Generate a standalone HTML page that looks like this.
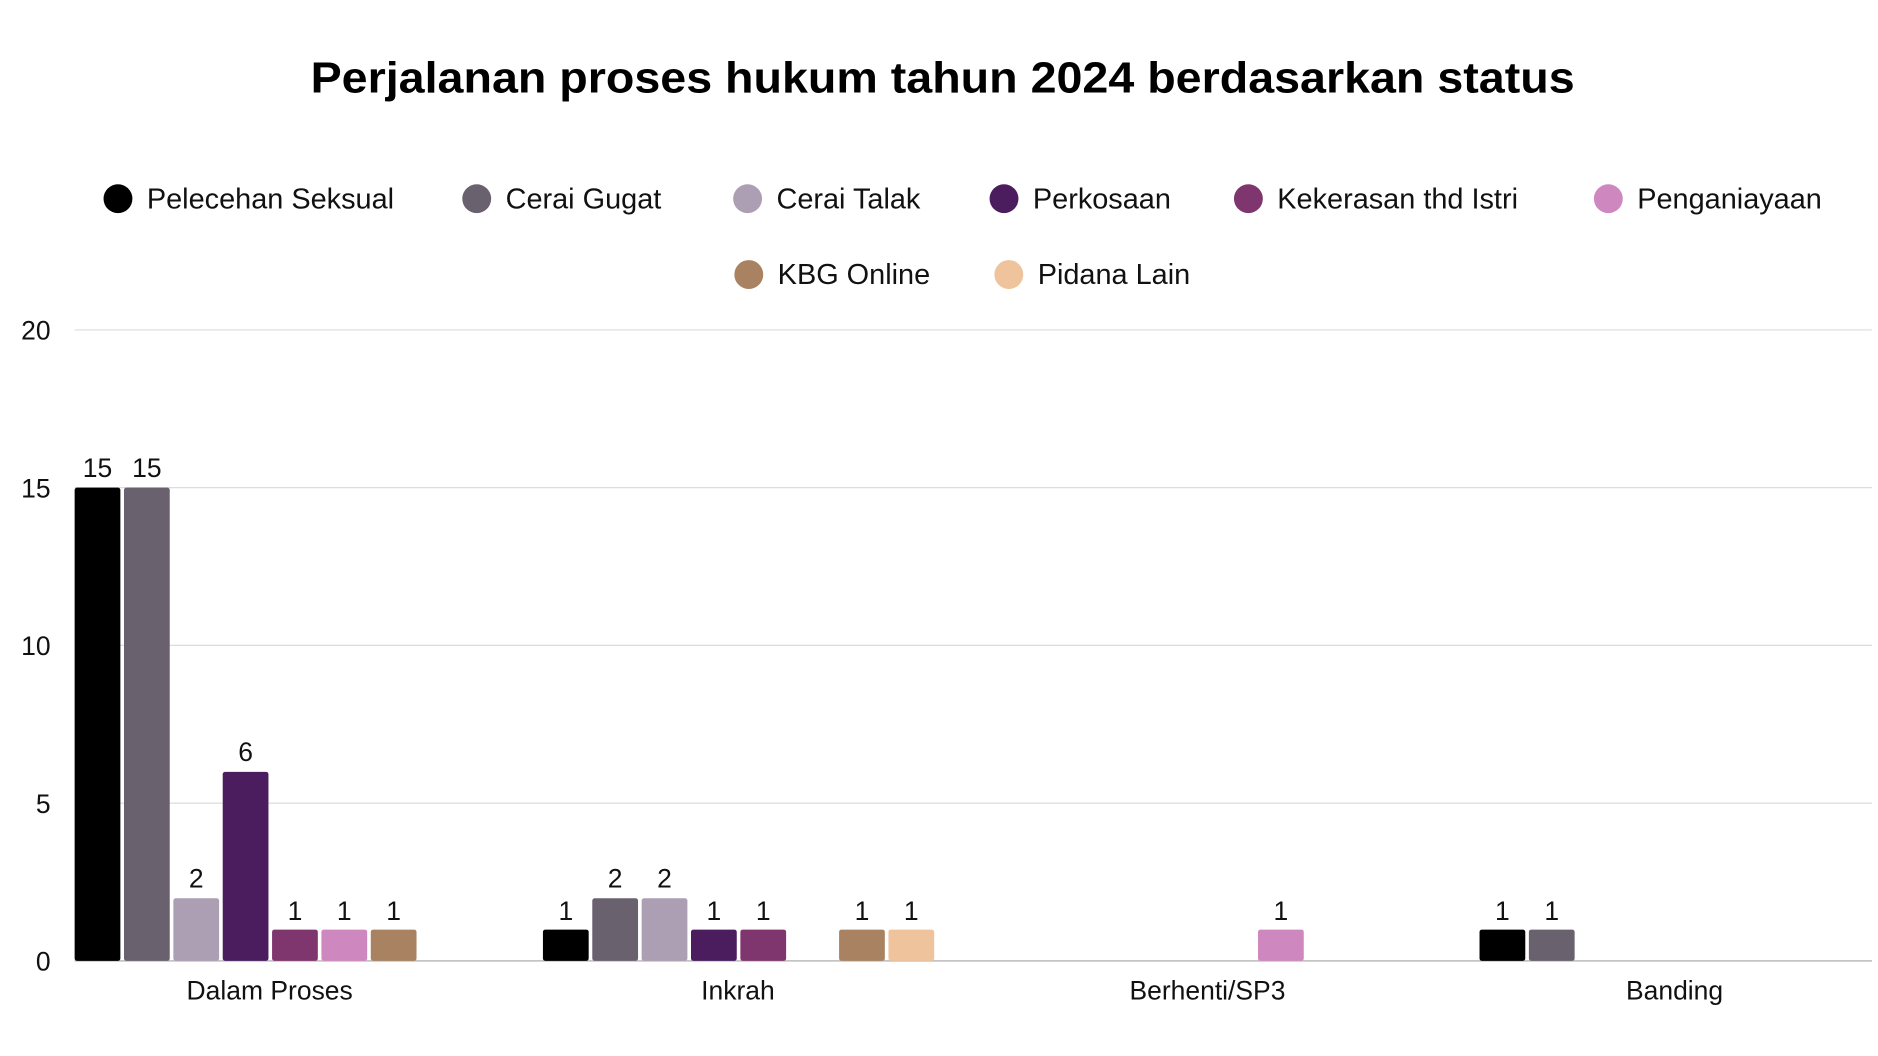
<!DOCTYPE html>
<html><head><meta charset="utf-8"><style>html,body{margin:0;padding:0;background:#fff}svg{display:block}</style></head><body>
<svg width="1878" height="1056" viewBox="0 0 1560 877" preserveAspectRatio="none" font-family="Liberation Sans, sans-serif">
<text x="783" y="77" text-anchor="middle" font-size="36" font-weight="bold" fill="#000" textLength="1050" lengthAdjust="spacingAndGlyphs">Perjalanan proses hukum tahun 2024 berdasarkan status</text>
<g font-size="24" fill="#111">
<circle cx="98" cy="165" r="12" fill="#000"/><text x="122" y="173">Pelecehan Seksual</text>
<circle cx="396" cy="165" r="12" fill="#6a616e"/><text x="420" y="173">Cerai Gugat</text>
<circle cx="621" cy="165" r="12" fill="#ac9fb4"/><text x="645" y="173">Cerai Talak</text>
<circle cx="834" cy="165" r="12" fill="#4b1c5e"/><text x="858" y="173">Perkosaan</text>
<circle cx="1037" cy="165" r="12" fill="#7f356e"/><text x="1061" y="173">Kekerasan thd Istri</text>
<circle cx="1336" cy="165" r="12" fill="#cf88bf"/><text x="1360" y="173">Penganiayaan</text>
<circle cx="622" cy="228" r="12" fill="#a98262"/><text x="646" y="236">KBG Online</text>
<circle cx="838" cy="228" r="12" fill="#efc39c"/><text x="862" y="236">Pidana Lain</text>
</g>
<g stroke="#dcdcdc" stroke-width="1">
<line x1="62" y1="274" x2="1555" y2="274"/><line x1="62" y1="405" x2="1555" y2="405"/>
<line x1="62" y1="536" x2="1555" y2="536"/><line x1="62" y1="667" x2="1555" y2="667"/>
</g>
<g font-size="22" fill="#111" text-anchor="end">
<text x="42" y="282">20</text><text x="42" y="413">15</text><text x="42" y="544">10</text><text x="42" y="675">5</text><text x="42" y="806">0</text>
</g>
<line x1="62" y1="798" x2="1555" y2="798" stroke="#bbb" stroke-width="1.2"/>
<g font-size="22" fill="#111" text-anchor="middle">
<text x="224" y="830">Dalam Proses</text><text x="613" y="830">Inkrah</text><text x="1003" y="830">Berhenti/SP3</text><text x="1391" y="830">Banding</text>
</g>
<g font-size="22" fill="#111" text-anchor="middle">
<rect x="62" y="405" width="38" height="393" rx="2" fill="#000"/><text x="81" y="396">15</text>
<rect x="103" y="405" width="38" height="393" rx="2" fill="#6a616e"/><text x="122" y="396">15</text>
<rect x="144" y="746" width="38" height="52" rx="2" fill="#ac9fb4"/><text x="163" y="737">2</text>
<rect x="185" y="641" width="38" height="157" rx="2" fill="#4b1c5e"/><text x="204" y="632">6</text>
<rect x="226" y="772" width="38" height="26" rx="2" fill="#7f356e"/><text x="245" y="764">1</text>
<rect x="267" y="772" width="38" height="26" rx="2" fill="#cf88bf"/><text x="286" y="764">1</text>
<rect x="308" y="772" width="38" height="26" rx="2" fill="#a98262"/><text x="327" y="764">1</text>
<rect x="451" y="772" width="38" height="26" rx="2" fill="#000"/><text x="470" y="764">1</text>
<rect x="492" y="746" width="38" height="52" rx="2" fill="#6a616e"/><text x="511" y="737">2</text>
<rect x="533" y="746" width="38" height="52" rx="2" fill="#ac9fb4"/><text x="552" y="737">2</text>
<rect x="574" y="772" width="38" height="26" rx="2" fill="#4b1c5e"/><text x="593" y="764">1</text>
<rect x="615" y="772" width="38" height="26" rx="2" fill="#7f356e"/><text x="634" y="764">1</text>
<rect x="697" y="772" width="38" height="26" rx="2" fill="#a98262"/><text x="716" y="764">1</text>
<rect x="738" y="772" width="38" height="26" rx="2" fill="#efc39c"/><text x="757" y="764">1</text>
<rect x="1045" y="772" width="38" height="26" rx="2" fill="#cf88bf"/><text x="1064" y="764">1</text>
<rect x="1229" y="772" width="38" height="26" rx="2" fill="#000"/><text x="1248" y="764">1</text>
<rect x="1270" y="772" width="38" height="26" rx="2" fill="#6a616e"/><text x="1289" y="764">1</text>
</g>
</svg>
</body></html>
